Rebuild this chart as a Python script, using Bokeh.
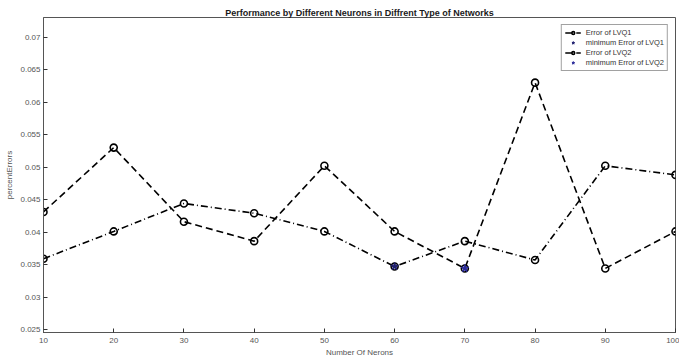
from bokeh.plotting import figure
from bokeh.models import (LinearAxis, FixedTicker, Legend, LegendItem, Range1d)
from bokeh.embed import file_html
from bokeh.resources import INLINE

# ---- data ----
neurons = [10, 20, 30, 40, 50, 60, 70, 80, 90, 100]
err_lvq1 = [0.0359, 0.0401, 0.0444, 0.0429, 0.0401, 0.0347, 0.0386, 0.0357, 0.0502, 0.0488]
err_lvq2 = [0.0431, 0.0530, 0.0416, 0.0386, 0.0502, 0.0401, 0.0344, 0.0630, 0.0344, 0.0401]
min_lvq1_x = [60]
min_lvq1_y = [0.0347]
min_lvq2_x = [70]
min_lvq2_y = [0.0344]

x_ticks = [10, 20, 30, 40, 50, 60, 70, 80, 90, 100]
x_tick_labels = ["10", "20", "30", "40", "50", "60", "70", "80", "90", "100"]
y_ticks = [0.025, 0.03, 0.035, 0.04, 0.045, 0.05, 0.055, 0.06, 0.065, 0.07]
y_tick_labels = ["0.025", "0.03", "0.035", "0.04", "0.045", "0.05", "0.055", "0.06", "0.065", "0.07"]

title_text = "Performance by Different Neurons in Diffrent Type of Networks"
x_label = "Number Of Nerons"
y_label = "percentErrors"

FONT = "Liberation Sans"
TICK_COLOR = "#555555"

p = figure(width=679, height=359, output_backend="svg", toolbar_location=None,
           x_range=Range1d(10, 100), y_range=Range1d(0.02454, 0.07303),
           x_axis_type=None, y_axis_type=None,
           min_border_left=43, min_border_right=4, min_border_top=17, min_border_bottom=26)

p.title.text = title_text
p.title.text_font = FONT
p.title.text_font_size = "9px"
p.title.text_font_style = "bold"
p.title.text_color = "#1a1a1a"
p.title.align = "center"
p.title.standoff = 0
p.title.offset = 0

xt = FixedTicker(ticks=x_ticks)
yt = FixedTicker(ticks=y_ticks)

def style_axis(ax):
    ax.axis_line_color = "#555555"
    ax.axis_line_width = 1
    ax.major_tick_line_color = "#333333"
    ax.major_tick_in = 4
    ax.major_tick_out = 0
    ax.minor_tick_line_color = None
    ax.major_label_text_font = FONT
    ax.major_label_text_color = TICK_COLOR
    ax.major_label_text_font_size = "8px"
    ax.axis_label_text_font = FONT
    ax.axis_label_text_font_size = "8px"
    ax.axis_label_text_font_style = "normal"
    ax.axis_label_text_color = TICK_COLOR

xb = LinearAxis(ticker=xt, axis_label=x_label)
style_axis(xb)
xb.major_label_overrides = {t: l for t, l in zip(x_ticks, x_tick_labels)}
xb.major_label_standoff = 5
xb.axis_label_standoff = 2
p.add_layout(xb, "below")

yl = LinearAxis(ticker=yt, axis_label=y_label)
style_axis(yl)
yl.major_label_overrides = {t: l for t, l in zip(y_ticks, y_tick_labels)}
yl.major_label_standoff = 3
yl.axis_label_standoff = 3
p.add_layout(yl, "left")

p.xgrid.ticker = xt
p.ygrid.ticker = yt
p.grid.grid_line_color = "#e3e3e3"
p.grid.grid_line_width = 1
p.outline_line_color = "#555555"

# series
l1 = p.line(neurons, err_lvq1, line_color="black", line_width=1.6, line_dash="7 3 1 3")
s1 = p.scatter(neurons, err_lvq1, marker="circle", size=7, line_color="black",
               line_width=1.6, fill_alpha=0)
m1 = p.scatter(min_lvq1_x, min_lvq1_y, marker="star", size=8, line_color="#1e1e6e",
               fill_color="#1e1e6e", line_width=1)

l2 = p.line(neurons, err_lvq2, line_color="black", line_width=1.6, line_dash="7 4")
s2 = p.scatter(neurons, err_lvq2, marker="circle", size=7, line_color="black",
               line_width=1.6, fill_alpha=0)
m2 = p.scatter(min_lvq2_x, min_lvq2_y, marker="star", size=8, line_color="#2a2a9a",
               fill_color="#2a2a9a", line_width=1)

legend = Legend(items=[
    LegendItem(label="Error of LVQ1", renderers=[l2, s2]),
    LegendItem(label="minimum Error of LVQ1", renderers=[m1]),
    LegendItem(label="Error of LVQ2", renderers=[l2, s2]),
    LegendItem(label="minimum Error of LVQ2", renderers=[m2]),
], location="top_right")
legend.margin = 7
legend.padding = 3
legend.spacing = 1
legend.label_text_font = FONT
legend.label_text_font_size = "7.5px"
legend.label_text_color = "#333333"
legend.label_height = 7
legend.glyph_height = 7
legend.glyph_width = 16
legend.label_standoff = 5
legend.border_line_color = "#444444"
legend.border_line_width = 1
legend.background_fill_color = "white"
legend.background_fill_alpha = 1
p.add_layout(legend)

open("out.html", "w").write(file_html(p, INLINE))
